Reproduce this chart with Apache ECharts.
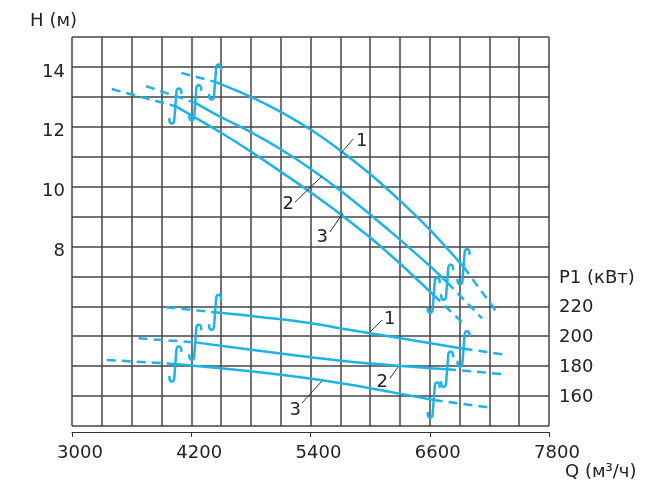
<!DOCTYPE html>
<html><head><meta charset="utf-8">
<script src="https://cdn.jsdelivr.net/npm/echarts@6/dist/echarts.min.js"></script>
<style>html,body{margin:0;padding:0;background:#fff}#c{width:647px;height:488px}</style>
</head><body><div id="c"></div>
<script>
// ---------- DATA ----------
const xTickLabels = [3000, 4200, 5400, 6600, 7800];
const hTickLabels = [8, 10, 12, 14];
const pTickLabels = [160, 180, 200, 220];
const curveNames = ['1', '2', '3'];

// H(Q) curves – solid working range
const h1Q = [4440, 4800, 5100, 5400, 5700, 6000, 6300, 6600, 6940];
const h1H = [13.5, 13.0, 12.5, 11.91, 11.21, 10.42, 9.53, 8.56, 7.32];
const h2Q = [4240, 4500, 4800, 5100, 5400, 5700, 6000, 6300, 6600, 6775];
const h2H = [12.8, 12.32, 11.82, 11.25, 10.6, 9.87, 9.07, 8.23, 7.35, 6.8];
const h3Q = [4040, 4500, 4800, 5100, 5400, 5700, 6000, 6300, 6640];
const h3H = [12.69, 11.8, 11.17, 10.5, 9.81, 9.08, 8.3, 7.43, 6.37];
// H(Q) dashed extensions (left / right)
const h1DashLQ = [4100, 4440], h1DashLH = [13.8, 13.5];
const h1DashRQ = [6940, 7260], h1DashRH = [7.32, 5.87];
const h2DashLQ = [3745, 4240], h2DashLH = [13.36, 12.8];
const h2DashRQ = [6775, 7126], h2DashRH = [6.8, 5.6];
const h3DashLQ = [3400, 4040], h3DashLH = [13.26, 12.69];
const h3DashRQ = [6640, 6965], h3DashRH = [6.37, 5.34];

// P1(Q) curves – solid working range
const p1Q = [4440, 5300, 5800, 6940];
const p1P = [216.0, 209.7, 204.2, 191.7];
const p2Q = [4240, 5300, 5800, 6775];
const p2P = [195.9, 186.8, 183.0, 177.9];
const p3Q = [4040, 4700, 5300, 5800, 6200, 6640];
const p3P = [181.5, 177.3, 172.6, 167.6, 162.8, 157.4];
// P1(Q) dashed extensions
const p1DashLQ = [3950, 4440], p1DashLP = [219.3, 216.0];
const p1DashRQ = [6940, 7375], p1DashRP = [191.7, 187.5];
const p2DashLQ = [3670, 4240], p2DashLP = [198.6, 195.9];
const p2DashRQ = [6775, 7355], p2DashRP = [177.9, 174.6];
const p3DashLQ = [3350, 4040], p3DashLP = [184.1, 181.5];
const p3DashRQ = [6640, 7190], p3DashRP = [157.4, 152.5];

// curve-label anchor points (on the curves)
const hLabelQ = [5707, 5516, 5727];
const hLabelH = [11.12, 10.35, 9.12];
const pLabelQ = [5999, 6281, 5516];
const pLabelP = [202.8, 179.4, 170.1];

// ---------- STYLE ----------
const BLUE = '#1cb3e8';
const GRID = '#454545';
const TXT = '#222';
const FONT = '"DejaVu Sans", Arial, sans-serif';
const FS = 18;
const BREAK_PATH = 'M-6,13 C-6,19 -1,19 -1,13 L1,-13 C1,-19 6,-19 6,-13';
// leader offsets (px): [dx, dy] to leader end, [tx, ty] text offset from end, align
const hLead = [[12,-14, 3,2,'left'], [-27,26, -1,2,'right'], [-13,19, -2,5,'right']];
const pLead = [[12,-12, 2,-1,'left'], [-8,11, -2,4,'right'], [-20,22, -1,7,'right']];

const zip = (a, b) => a.map((v, i) => [v, b[i]]);

function solid(q, v, yi) {
  return { type: 'line', xAxisIndex: 0, yAxisIndex: yi, data: zip(q, v), smooth: 0.3,
    showSymbol: false, symbol: 'none', lineStyle: { color: BLUE, width: 2.5 }, z: 5 };
}
function dashed(q, v, yi) {
  return { type: 'line', xAxisIndex: 0, yAxisIndex: yi, data: zip(q, v),
    showSymbol: false, symbol: 'none', lineStyle: { color: BLUE, width: 2.5, type: [9, 6] }, z: 5 };
}
function breaks(pts, yi) {
  return { type: 'custom', xAxisIndex: 0, yAxisIndex: yi, data: pts, z: 6, clip: false,
    renderItem: (params, api) => {
      const p = api.coord([api.value(0), api.value(1)]);
      return { type: 'path', x: p[0], y: p[1], shape: { pathData: BREAK_PATH },
        style: { stroke: BLUE, fill: 'none', lineWidth: 2.5, lineCap: 'round' } };
    } };
}
function labels(q, v, yi, lead) {
  return { type: 'custom', xAxisIndex: 0, yAxisIndex: yi, data: zip(q, v), z: 7, clip: false,
    renderItem: (params, api) => {
      const p = api.coord([api.value(0), api.value(1)]);
      const L = lead[params.dataIndex];
      const ex = p[0] + L[0], ey = p[1] + L[1];
      return { type: 'group', children: [
        { type: 'line', shape: { x1: p[0], y1: p[1], x2: ex, y2: ey }, style: { stroke: '#333', lineWidth: 1 } },
        { type: 'text', x: ex + L[2], y: ey + L[3], style: { text: curveNames[params.dataIndex],
          font: FS + 'px ' + FONT, fill: TXT, align: L[4], verticalAlign: 'middle' } }
      ] };
    } };
}

const series = [
  solid(h1Q, h1H, 0), solid(h2Q, h2H, 0), solid(h3Q, h3H, 0),
  dashed(h1DashLQ, h1DashLH, 0), dashed(h1DashRQ, h1DashRH, 0),
  dashed(h2DashLQ, h2DashLH, 0), dashed(h2DashRQ, h2DashRH, 0),
  dashed(h3DashLQ, h3DashLH, 0), dashed(h3DashRQ, h3DashRH, 0),
  solid(p1Q, p1P, 1), solid(p2Q, p2P, 1), solid(p3Q, p3P, 1),
  dashed(p1DashLQ, p1DashLP, 1), dashed(p1DashRQ, p1DashRP, 1),
  dashed(p2DashLQ, p2DashLP, 1), dashed(p2DashRQ, p2DashRP, 1),
  dashed(p3DashLQ, p3DashLP, 1), dashed(p3DashRQ, p3DashRP, 1),
  breaks([[h1Q[0], h1H[0]], [h1Q[h1Q.length-1], h1H[h1H.length-1]],
          [h2Q[0], h2H[0]], [h2Q[h2Q.length-1], h2H[h2H.length-1]],
          [h3Q[0], h3H[0]], [h3Q[h3Q.length-1], h3H[h3H.length-1]]], 0),
  breaks([[p1Q[0], p1P[0]], [p1Q[p1Q.length-1], p1P[p1P.length-1]],
          [p2Q[0], p2P[0]], [p2Q[p2Q.length-1], p2P[p2P.length-1]],
          [p3Q[0], p3P[0]], [p3Q[p3Q.length-1], p3P[p3P.length-1]]], 1),
  labels(hLabelQ, hLabelH, 0, hLead),
  labels(pLabelQ, pLabelP, 1, pLead)
];

const chart = echarts.init(document.getElementById('c'), null, { renderer: 'canvas' });
chart.setOption({
  animation: false,
  backgroundColor: '#fff',
  textStyle: { fontFamily: FONT },
  grid: { left: 72, right: 98, top: 37, bottom: 62, containLabel: false, outerBoundsMode: 'none' },
  xAxis: [
    { type: 'value', min: 3000, max: 7800, interval: 300, position: 'bottom',
      axisLine: { show: false }, axisTick: { show: false }, axisLabel: { show: false },
      splitLine: { show: true, lineStyle: { color: GRID, width: 1.5 } } },
    { type: 'value', min: 3000, max: 7800, interval: 1200, position: 'bottom', offset: 6,
      axisLine: { show: true, lineStyle: { color: '#333', width: 1 } },
      axisTick: { show: true, length: 5, lineStyle: { color: '#333', width: 1 } },
      axisLabel: { margin: 12, fontSize: FS, color: TXT, fontFamily: FONT, padding: [0, 0, 0, 16],
        formatter: v => xTickLabels.includes(v) ? String(v) : '' },
      splitLine: { show: false },
      name: 'Q (м³/ч)', nameLocation: 'end', nameGap: 16, nameMoveOverlap: false,
      nameTextStyle: { fontSize: FS, color: TXT, fontFamily: FONT, align: 'left', verticalAlign: 'top', padding: [31, 0, 0, 0] } }
  ],
  yAxis: [
    { type: 'value', min: 2, max: 15, interval: 1, position: 'left',
      axisLine: { show: false }, axisTick: { show: false },
      axisLabel: { margin: 7, fontSize: FS, color: TXT, fontFamily: FONT, verticalAlign: 'top', lineHeight: 10,
        formatter: v => hTickLabels.includes(v) ? String(v) : '' },
      splitLine: { show: true, lineStyle: { color: GRID, width: 1.5 } },
      name: 'H (м)', nameLocation: 'end', nameGap: 7, nameMoveOverlap: false,
      nameTextStyle: { fontSize: FS, color: TXT, fontFamily: FONT, align: 'right', padding: [0, -5, 0, 0] } },
    { type: 'value', min: 140, max: 400, interval: 20, position: 'right',
      axisLine: { show: false }, axisTick: { show: false }, splitLine: { show: false },
      axisLabel: { margin: 10, fontSize: FS, color: TXT, fontFamily: FONT, verticalAlign: 'top', lineHeight: 3,
        formatter: v => pTickLabels.includes(v) ? String(v) : (v === 240 ? 'P1 (кВт)' : '') } }
  ],
  series: series
});
</script></body></html>
